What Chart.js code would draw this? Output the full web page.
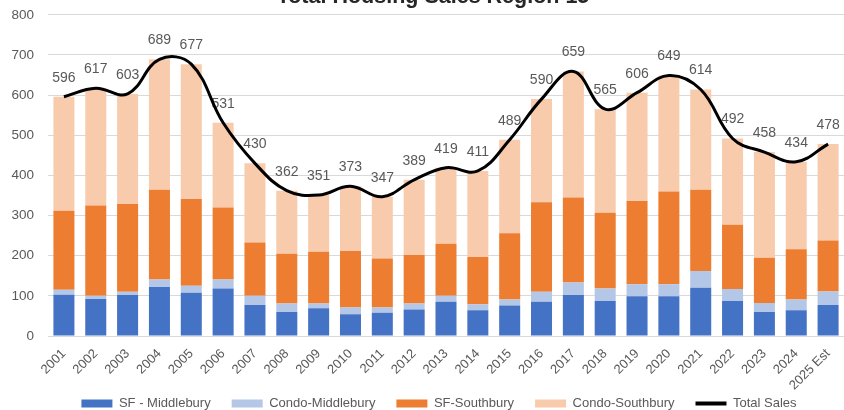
<!DOCTYPE html>
<html>
<head>
<meta charset="utf-8">
<script src="https://cdn.jsdelivr.net/npm/chart.js@4.4.0/dist/chart.umd.min.js"></script>
<style>
  html, body { margin: 0; padding: 0; background: #fff; overflow: hidden; width: 844px; height: 410px; }
  #wrap { position: absolute; left: 0; top: -20px; width: 844px; height: 460px; }
</style>
</head>
<body>
<div id="wrap"><canvas id="chart"></canvas></div>
<script>
  const years = ['2001', '2002', '2003', '2004', '2005', '2006', '2007', '2008', '2009', '2010',
    '2011', '2012', '2013', '2014', '2015', '2016', '2017', '2018', '2019', '2020',
    '2021', '2022', '2023', '2024', '2025 Est'];
  const sfMiddlebury = [103, 92, 102, 122, 108, 118, 77, 60, 69, 54, 58, 66, 85, 64, 76, 85, 102, 87, 99, 99, 120, 87, 60, 64, 77];
  const condoMiddlebury = [12, 8, 8, 19, 17, 23, 23, 21, 12, 17, 13, 15, 15, 15, 15, 25, 31, 31, 30, 30, 42, 30, 22, 27, 34];
  const sfSouthbury = [197, 225, 219, 223, 216, 179, 133, 124, 129, 141, 122, 121, 130, 118, 165, 223, 212, 189, 207, 231, 202, 160, 113, 125, 127];
  const condoSouthbury = [284, 292, 274, 325, 336, 211, 197, 157, 141, 161, 154, 187, 189, 214, 233, 257, 314, 258, 270, 289, 250, 215, 263, 218, 240];
  const totalSales = [596, 617, 603, 689, 677, 531, 430, 362, 351, 373, 347, 389, 419, 411, 489, 590, 659, 565, 606, 649, 614, 492, 458, 434, 478];

  const FONT = '"Liberation Sans", Arial, sans-serif';
  const GREY = '#595959';

  // total labels sit under the line, so draw them just before the line dataset
  const totalLabels = {
    id: 'totalLabels',
    beforeDatasetDraw(chart, args) {
      if (args.index !== 4) return;
      const ctx = chart.ctx;
      ctx.save();
      ctx.font = '14px ' + FONT;
      ctx.fillStyle = GREY;
      ctx.textAlign = 'center';
      ctx.textBaseline = 'middle';
      args.meta.data.forEach((pt, i) => ctx.fillText(String(totalSales[i]), pt.x, pt.y - 19));
      ctx.restore();
    }
  };

  // the rotated year labels hang into the legend band, so pull the legend up over them;
  // legend and title are also centred a bit right of the canvas middle in the original
  const nudgeBoxes = {
    id: 'nudgeBoxes',
    afterLayout(chart) {
      const lg = chart.legend;
      lg.top -= 20; lg.bottom -= 20;
      lg.left += 17; lg.right += 17;
      const tb = chart.titleBlock;
      tb.left += 11; tb.right += 11;
    }
  };

  function bar(label, data, color) {
    return { type: 'bar', label, data, backgroundColor: color, borderWidth: 0,
      barPercentage: 0.66, categoryPercentage: 1, stack: 'sales', order: 1 };
  }

  new Chart(document.getElementById('chart'), {
    data: {
      labels: years,
      datasets: [
        bar('SF - Middlebury', sfMiddlebury, '#4472C4'),
        bar('Condo-Middlebury', condoMiddlebury, '#B4C7E7'),
        bar('SF-Southbury', sfSouthbury, '#ED7D31'),
        bar('Condo-Southbury', condoSouthbury, '#F8CBAD'),
        {
          type: 'line', label: 'Total Sales', data: totalSales, stack: 'total', order: 0,
          borderColor: '#000', backgroundColor: '#000', borderWidth: 3,
          pointRadius: 0, pointStyle: 'line', tension: 0.4, fill: false
        }
      ]
    },
    plugins: [totalLabels, nudgeBoxes],
    options: {
      responsive: true,
      maintainAspectRatio: false,
      animation: false,
      layout: { padding: 0 },
      scales: {
        x: {
          stacked: true,
          grid: { display: false },
          border: { display: false },
          ticks: { color: GREY, font: { family: FONT, size: 13 }, minRotation: 45, maxRotation: 45, padding: 2 },
          afterFit(scale) { scale.height = 60; scale.paddingLeft = 0; scale.paddingRight = 0; }
        },
        y: {
          stacked: true,
          min: 0, max: 800,
          grid: { color: '#D9D9D9', lineWidth: 1, drawTicks: false },
          border: { display: false },
          ticks: { stepSize: 100, color: GREY, font: { family: FONT, size: 13.5 }, padding: 14 },
          afterFit(scale) { scale.width = 48; }
        }
      },
      plugins: {
        title: {
          display: true,
          text: 'Total Housing Sales Region 15',
          color: '#262626',
          font: { family: FONT, size: 21.5, weight: 'bold' },
          padding: { top: 4, bottom: 5 }
        },
        legend: {
          position: 'bottom',
          labels: {
            color: GREY,
            font: { family: FONT, size: 13 },
            usePointStyle: true,
            pointStyleWidth: 31,
            boxHeight: 8,
            padding: 21,
            generateLabels(chart) {
              const items = Chart.defaults.plugins.legend.labels.generateLabels(chart);
              items.forEach(it => {
                if (it.datasetIndex === 4) {
                  it.pointStyle = 'line'; it.lineWidth = 4; it.strokeStyle = '#000';
                } else {
                  it.pointStyle = 'rect'; it.lineWidth = 0;
                }
              });
              return items.sort((a, b) => a.datasetIndex - b.datasetIndex);
            }
          }
        },
        tooltip: { enabled: false }
      }
    }
  });
</script>
</body>
</html>
